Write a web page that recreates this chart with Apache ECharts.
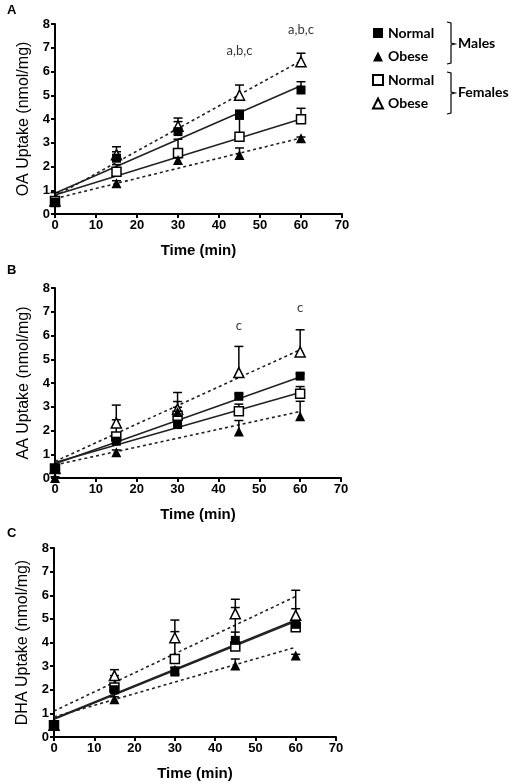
<!DOCTYPE html>
<html><head><meta charset="utf-8">
<script src="https://cdn.jsdelivr.net/npm/echarts@6/dist/echarts.min.js"></script>
<style>html,body{margin:0;padding:0;background:#fff}#c{width:514px;height:784px}</style>
</head><body><div id="c"></div>
<script>
const times = [0, 15, 30, 45, 60];
const fitTimes = [0, 60];
const groups = ['Males Normal', 'Males Obese', 'Females Normal', 'Females Obese'];
const xTickMax = 70, yTickMax = 8;

// Panel A: OA
const oaMaleNormal = [0.5, 2.35, 3.47, 4.15, 5.22];
const oaMaleObese = [0.5, 1.3, 2.27, 2.48, 3.19];
const oaFemaleNormal = [0.55, 1.78, 2.57, 3.25, 3.99];
const oaFemaleObese = [0.55, 2.5, 3.7, 5.0, 6.41];
const oaMaleNormalErr = [0.4, 0.27, 0.42, 0.22, 0.35];
const oaMaleObeseErr = [0.1, 0.1, 0.1, 0.3, 0.05];
const oaFemaleNormalErr = [0.1, 0.3, 0.58, 1.1, 0.46];
const oaFemaleObeseErr = [0.1, 0.33, 0.34, 0.43, 0.36];
const oaFitMaleNormal = [0.87, 5.4];
const oaFitMaleObese = [0.65, 3.2];
const oaFitFemaleNormal = [0.8, 4.0];
const oaFitFemaleObese = [0.75, 6.45];
const oaNoteTimes = [45, 60];
const oaNoteY = [6.86, 7.75];
const oaNotes = ['a,b,c', 'a,b,c'];

// Panel B: AA
const aaMaleNormal = [0.4, 1.55, 2.25, 3.44, 4.29];
const aaMaleObese = [0.0, 1.08, 2.78, 1.96, 2.6];
const aaFemaleNormal = [0.4, 1.75, 2.62, 2.81, 3.55];
const aaFemaleObese = [0.4, 2.32, 2.9, 4.44, 5.31];
const aaMaleNormalErr = [0.1, 0.2, 0.2, 0.1, 0.1];
const aaMaleObeseErr = [0.05, 0.1, 0.2, 0.46, 0.63];
const aaFemaleNormalErr = [0.1, 0.7, 0.6, 0.3, 0.3];
const aaFemaleObeseErr = [0.1, 0.75, 0.7, 1.1, 0.93];
const aaFitMaleNormal = [0.6, 4.25];
const aaFitMaleObese = [0.55, 2.8];
const aaFitFemaleNormal = [0.65, 3.6];
const aaFitFemaleObese = [0.7, 5.4];
const aaNoteTimes = [45, 60];
const aaNoteY = [6.4, 7.16];
const aaNotes = ['c', 'c'];

// Panel C: DHA
const dhaMaleNormal = [0.5, 2.0, 2.75, 4.09, 4.77];
const dhaMaleObese = [0.5, 1.6, 2.85, 3.03, 3.45];
const dhaFemaleNormal = [0.5, 2.1, 3.3, 3.83, 4.65];
const dhaFemaleObese = [0.5, 2.6, 4.2, 5.22, 5.15];
const dhaMaleNormalErr = [0.1, 0.2, 0.2, 0.35, 0.2];
const dhaMaleObeseErr = [0.05, 0.1, 0.1, 0.27, 0.05];
const dhaFemaleNormalErr = [0.1, 0.5, 1.16, 1.65, 0.78];
const dhaFemaleObeseErr = [0.1, 0.25, 0.75, 0.61, 1.06];
const dhaFitMaleNormal = [0.78, 4.95];
const dhaFitMaleObese = [0.85, 3.8];
const dhaFitFemaleNormal = [0.75, 4.9];
const dhaFitFemaleObese = [1.1, 5.95];

const yTitles = ['OA Uptake (nmol/mg)', 'AA Uptake (nmol/mg)', 'DHA Uptake (nmol/mg)'];
const panelLetters = ['A', 'B', 'C'];

const panels = [
  {vals:[oaMaleNormal, oaMaleObese, oaFemaleNormal, oaFemaleObese],
   errs:[oaMaleNormalErr, oaMaleObeseErr, oaFemaleNormalErr, oaFemaleObeseErr],
   fits:[oaFitMaleNormal, oaFitMaleObese, oaFitFemaleNormal, oaFitFemaleObese],
   notes:{t:oaNoteTimes, y:oaNoteY, s:oaNotes}},
  {vals:[aaMaleNormal, aaMaleObese, aaFemaleNormal, aaFemaleObese],
   errs:[aaMaleNormalErr, aaMaleObeseErr, aaFemaleNormalErr, aaFemaleObeseErr],
   fits:[aaFitMaleNormal, aaFitMaleObese, aaFitFemaleNormal, aaFitFemaleObese],
   notes:{t:aaNoteTimes, y:aaNoteY, s:aaNotes}},
  {vals:[dhaMaleNormal, dhaMaleObese, dhaFemaleNormal, dhaFemaleObese],
   errs:[dhaMaleNormalErr, dhaMaleObeseErr, dhaFemaleNormalErr, dhaFemaleObeseErr],
   fits:[dhaFitMaleNormal, dhaFitMaleObese, dhaFitFemaleNormal, dhaFitFemaleObese],
   notes:null}
];

const gridPos = [
  {left:55, top:24, width:287, height:190},
  {left:55, top:288, width:286, height:190},
  {left:54, top:548, width:282, height:189}
];

const symbols = ['rect', 'triangle', 'rect', 'triangle'];
const filled = [true, true, false, false];
const dashed = [false, true, false, true];
const drawOrder = [3, 2, 1, 0];

const axisFont = 'Liberation Sans, Arial, sans-serif';
const series = [];
const grids = [], xAxes = [], yAxes = [];

panels.forEach((p, i) => {
  grids.push(Object.assign({containLabel:false}, gridPos[i]));
  xAxes.push({
    type:'value', gridIndex:i, min:0, max:xTickMax, interval:10,
    axisLine:{show:true, onZero:false, lineStyle:{color:'#000', width:2}},
    axisTick:{show:true, length:4, lineStyle:{color:'#000', width:2}},
    splitLine:{show:false},
    axisLabel:{color:'#000', fontFamily:axisFont, fontWeight:'bold', fontSize:13, margin:5},
    name:'Time (min)', nameLocation:'middle', nameGap:29,
    nameTextStyle:{color:'#000', fontFamily:axisFont, fontWeight:'bold', fontSize:15}
  });
  yAxes.push({
    type:'value', gridIndex:i, min:0, max:yTickMax, interval:1,
    axisLine:{show:true, onZero:false, lineStyle:{color:'#000', width:2}},
    axisTick:{show:true, length:4, lineStyle:{color:'#000', width:2}},
    splitLine:{show:false},
    axisLabel:{color:'#000', fontFamily:axisFont, fontWeight:'bold', fontSize:13, margin:5},
    name:yTitles[i], nameLocation:'middle', nameGap:22,
    nameTextStyle:{color:'#000', fontFamily:axisFont, fontSize:16}
  });
  p.fits.forEach((f, g) => {
    series.push({
      type:'line', xAxisIndex:i, yAxisIndex:i, silent:true, symbol:'none', z:2,
      data: fitTimes.map((t, k) => [t, f[k]]),
      lineStyle:{color:'#222', width:1.6, type: dashed[g] ? [3, 3] : 'solid'}
    });
  });
  drawOrder.forEach(g => {
    const v = p.vals[g];
    series.push({
      type:'custom', xAxisIndex:i, yAxisIndex:i, silent:true, z:3,
      data: times.map((t, k) => [t, v[k], v[k] + p.errs[g][k]]),
      renderItem:(params, api) => {
        const a = api.coord([api.value(0), api.value(1)]);
        const b = api.coord([api.value(0), api.value(2)]);
        return {type:'group', children:[
          {type:'line', shape:{x1:a[0], y1:a[1], x2:b[0], y2:b[1]}, style:{stroke:'#000', lineWidth:1.5}},
          {type:'line', shape:{x1:b[0]-4.5, y1:b[1], x2:b[0]+4.5, y2:b[1]}, style:{stroke:'#000', lineWidth:1.5}}
        ]};
      }
    });
  });
  drawOrder.forEach((g, n) => {
    const v = p.vals[g];
    series.push({
      type:'scatter', name:groups[g], xAxisIndex:i, yAxisIndex:i, z:5 + n,
      symbol:symbols[g], symbolSize: symbols[g] === 'triangle' ? 10 : 9,
      data: times.map((t, k) => [t, v[k]]),
      itemStyle:{color: filled[g] ? '#000' : '#fff', borderColor:'#000', borderWidth: filled[g] ? 0 : 1.5, opacity:1}
    });
  });
  if (p.notes) {
    series.push({
      type:'scatter', xAxisIndex:i, yAxisIndex:i, silent:true, symbolSize:0, z:12,
      data: p.notes.t.map((t, k) => ({value:[t, p.notes.y[k]], label:{formatter:p.notes.s[k]}})),
      label:{show:true, position:'inside', color:'#000', fontFamily:'Lato, sans-serif', fontSize:13}
    });
  }
});

const graphic = [];
[12, 272, 535].forEach((y, i) => {
  graphic.push({type:'text', left:7, top:y - 8, style:{text:panelLetters[i], fill:'#000', font:'bold 13px ' + axisFont}});
});
const braceStyle = {stroke:'#000', lineWidth:1.2, fill:null};
graphic.push({type:'polyline', shape:{points:[[447,22],[451,23],[451,43],[455,44],[451,45],[451,63],[447,64]]}, style:braceStyle});
graphic.push({type:'polyline', shape:{points:[[447,72],[451,73],[451,92],[455,93],[451,94],[451,113],[447,114]]}, style:braceStyle});
graphic.push({type:'text', left:458, top:36, style:{text:'Males', fill:'#000', font:'bold 14px Lato, sans-serif'}});
graphic.push({type:'text', left:458, top:85, style:{text:'Females', fill:'#000', font:'bold 14px Lato, sans-serif'}});

const chart = echarts.init(document.getElementById('c'), null, {renderer:'canvas'});
chart.setOption({
  animation:false,
  backgroundColor:'#fff',
  grid:grids, xAxis:xAxes, yAxis:yAxes, series:series, graphic:graphic,
  legend:{
    data:groups, orient:'vertical', left:367, top:21, itemWidth:10, itemHeight:10, itemGap:9.5,
    selectedMode:false, formatter:n => n.split(' ')[1],
    textStyle:{color:'#000', fontFamily:'Lato, sans-serif', fontWeight:'bold', fontSize:14, lineHeight:14}
  }
});
</script></body></html>
